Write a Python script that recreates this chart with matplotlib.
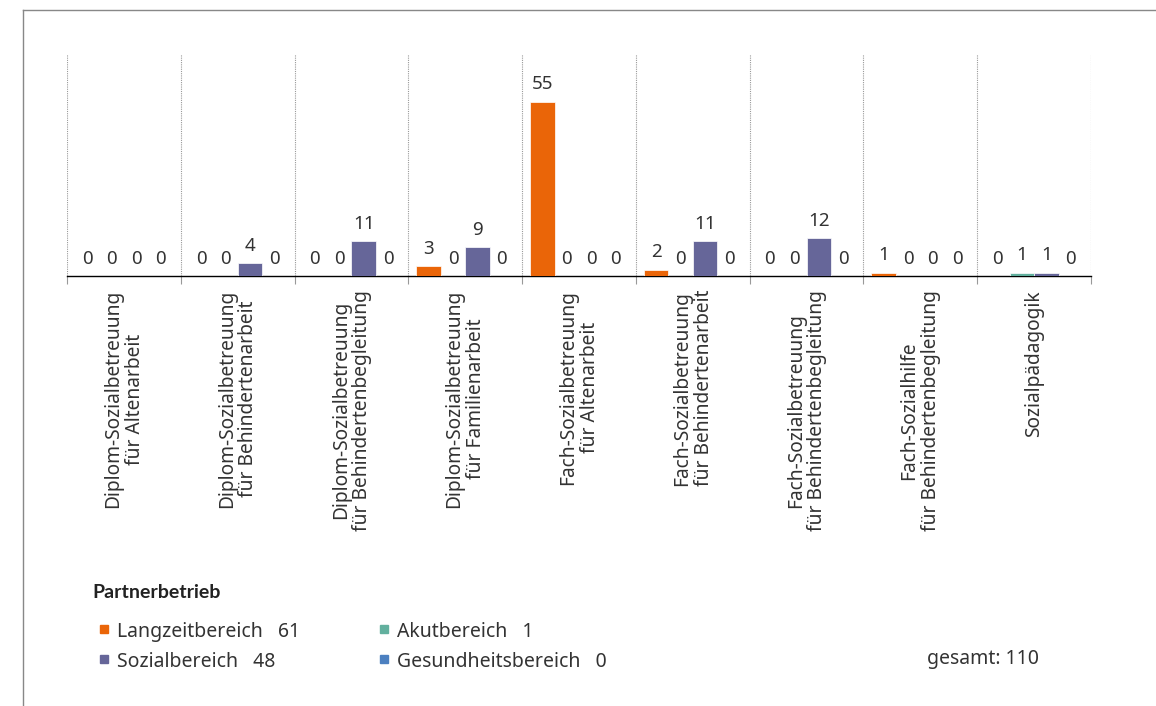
import matplotlib
matplotlib.use("Agg")
import matplotlib.pyplot as plt
from matplotlib.lines import Line2D
from matplotlib.patches import Rectangle
import numpy as np

plt.rcParams['font.family'] = ['Noto Sans', 'DejaVu Sans']

categories = [
    "Diplom-Sozialbetreuung\nfür Altenarbeit",
    "Diplom-Sozialbetreuung\nfür Behindertenarbeit",
    "Diplom-Sozialbetreuung\nfür Behindertenbegleitung",
    "Diplom-Sozialbetreuung\nfür Familienarbeit",
    "Fach-Sozialbetreuung\nfür Altenarbeit",
    "Fach-Sozialbetreuung\nfür Behindertenarbeit",
    "Fach-Sozialbetreuung\nfür Behindertenbegleitung",
    "Fach-Sozialhilfe\nfür Behindertenbegleitung",
    "Sozialpädagogik",
]
series_names = ["Langzeitbereich", "Akutbereich", "Sozialbereich", "Gesundheitsbereich"]
langzeit = [0, 0, 0, 3, 55, 2, 0, 1, 0]
akut = [0, 0, 0, 0, 0, 0, 0, 0, 1]
sozial = [0, 4, 11, 9, 0, 11, 12, 0, 1]
gesundheit = [0, 0, 0, 0, 0, 0, 0, 0, 0]
colors = ["#EA6508", "#62B09E", "#666699", "#4C80C0"]

text_color = "#333333"

fig = plt.figure(figsize=(11.56, 7.06), dpi=100)
ax = fig.add_axes([67/1156, 1-276/706, (1091-67)/1156, (276-54)/706])

all_series = [langzeit, akut, sozial, gesundheit]
n = len(categories)
x = np.arange(n)
width = 0.215
for i, (vals, col) in enumerate(zip(all_series, colors)):
    pos = x + (i - 1.5) * width
    ax.bar(pos, vals, width=width, color=col, edgecolor="white", linewidth=0.5, zorder=3)
    for xp, v in zip(pos, vals):
        ax.annotate(str(v), (xp, v), xytext=(0, 6), textcoords="offset points",
                    ha="center", va="bottom", fontsize=13.5, color=text_color)

ax.set_xlim(-0.5, n - 0.5)
ax.set_ylim(0, 70)
ax.set_yticks([])
ax.set_xticks(x)
ax.set_xticklabels(categories, rotation=90, fontsize=13.8, color=text_color,
                   multialignment="center", linespacing=1.1)
ax.tick_params(axis="x", which="major", length=0, pad=10)
ax.set_xticks(np.arange(n + 1) - 0.5, minor=True)
ax.tick_params(axis="x", which="minor", length=6, color="#999999", width=0.8)
ax.grid(axis="x", which="minor", color="#999999", linestyle=(0, (1, 1)), linewidth=0.8)
for s in ["top", "right", "left"]:
    ax.spines[s].set_visible(False)
ax.spines["bottom"].set_color("black")
ax.spines["bottom"].set_linewidth(1.0)

# frame
fig.add_artist(Line2D([23/1156, 23/1156], [0, 1-10/706], color="#888888", linewidth=1))
fig.add_artist(Line2D([23/1156, 1], [1-10/706, 1-10/706], color="#888888", linewidth=1))

# legend
fig.text(92/1156, 1-593/706, "Partnerbetrieb", fontsize=14, fontweight="bold",
         family=["Lato", "DejaVu Sans"], color="#222222", va="center")
totals = [sum(s) for s in all_series]
legend_pos = [(100, 632), (380, 632), (100, 662), (380, 662)]
for name, col, tot, (lx, ly) in zip(series_names, colors, totals, legend_pos):
    fig.add_artist(Rectangle((lx/1156, 1-(ly+1)/706), 8/1156, 8/706, color=col,
                             transform=fig.transFigure))
    fig.text((lx+17)/1156, 1-ly/706, f"{name}   {tot}", fontsize=14,
             color=text_color, va="center")

fig.text(927/1156, 1-659/706, f"gesamt: {sum(totals)}", fontsize=14,
         color=text_color, va="center")

fig.savefig("out.png", dpi=100)
